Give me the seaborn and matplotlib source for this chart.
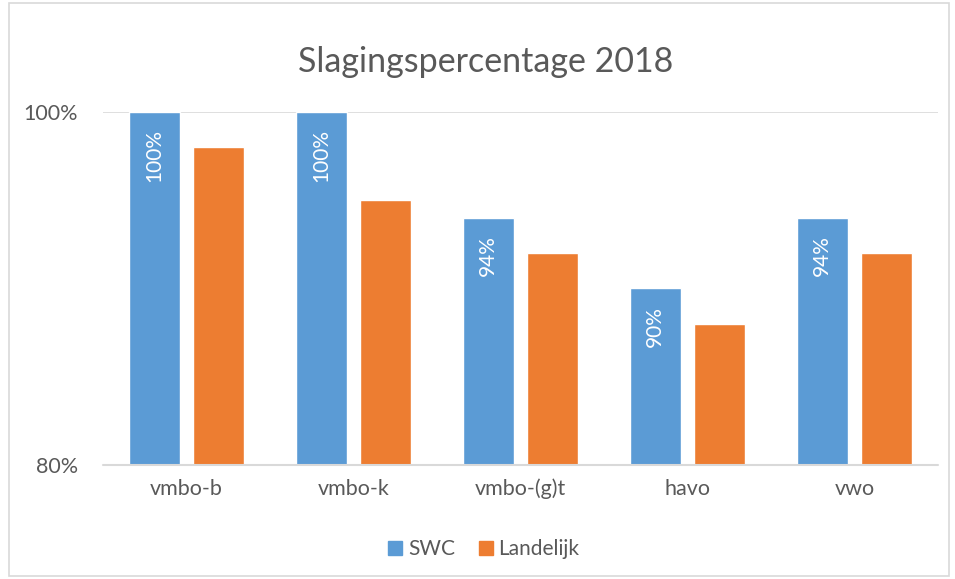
import matplotlib
matplotlib.use("Agg")
import matplotlib.pyplot as plt
import matplotlib.patches as mpatches
from matplotlib.lines import Line2D
import seaborn as sns
import pandas as pd

categories = ['vmbo-b', 'vmbo-k', 'vmbo-(g)t', 'havo', 'vwo']
swc = [100, 100, 94, 90, 94]
landelijk = [98, 95, 92, 88, 92]
series = ['SWC', 'Landelijk']
colors = ['#5b9bd5', '#ed7d31']
text_color = '#595959'

df = pd.DataFrame({
    'niveau': categories * 2,
    'pct': swc + landelijk,
    'groep': ['SWC'] * len(swc) + ['Landelijk'] * len(landelijk),
})

sns.set_theme(style='white')
plt.rcParams['font.family'] = ['Lato', 'DejaVu Sans']

fig = plt.figure(figsize=(9.55, 5.79), dpi=100)
ax = fig.add_axes([0.108, 0.197, 0.874, 0.610])

sns.barplot(data=df, x='niveau', y='pct', hue='groep', hue_order=series,
            palette=colors, width=0.77, gap=0.2, saturation=1,
            legend=False, ax=ax)

ax.set_ylim(80, 100)
ax.set_yticks([80, 100])
ax.set_yticklabels(['80%', '100%'])
ax.set_xlabel('')
ax.set_ylabel('')
for s in ax.spines.values():
    s.set_visible(False)
ax.axhline(100, color='#d9d9d9', lw=1.2, zorder=0)
ax.axhline(80, color='#d9d9d9', lw=1.5, zorder=3, clip_on=False)
ax.tick_params(axis='both', length=0, labelsize=15.5, colors=text_color)
ax.tick_params(axis='y', pad=18)
ax.tick_params(axis='x', pad=10)

# rotated value labels inside the SWC bars
swc_bars = ax.patches[:len(swc)]
for bar, v in zip(swc_bars, swc):
    ax.text(bar.get_x() + bar.get_width() / 2, v - 1.0, f'{v}%',
            rotation=90, ha='center', va='top', color='white', fontsize=15)

fig.suptitle('Slagingspercentage 2018', x=0.508, y=0.893, va='center',
             fontsize=24.5, color=text_color)

handles = [Line2D([], [], marker='s', linestyle='none', markersize=10,
                  markerfacecolor=c, markeredgecolor=c) for c in colors]
fig.legend(handles, series, loc='center', bbox_to_anchor=(0.505, 0.052),
           ncol=2, frameon=False, fontsize=15, labelcolor=text_color,
           handletextpad=0.1, columnspacing=1.0, handlelength=1.0)

fig.patches.append(mpatches.Rectangle((0.009, 0.006), 0.985, 0.988,
                                      transform=fig.transFigure, fill=False,
                                      edgecolor='#d9d9d9', lw=1.2))

fig.savefig('out.png', dpi=100)
